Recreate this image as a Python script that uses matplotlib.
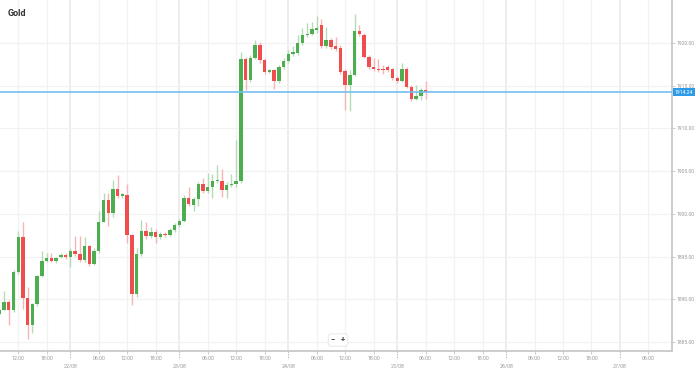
import matplotlib
matplotlib.use("Agg")
import matplotlib.pyplot as plt
import matplotlib.transforms as mtransforms

# =============================================================================
# Données (bougies horaires, x = heures de cotation depuis le 22/08 00:00)
# =============================================================================
opens = [1888.3, 1888.8, 1889.7, 1888.8, 1893.2, 1897.3, 1890.2, 1887.0, 1889.4, 1892.7,
         1894.5, 1894.8, 1894.5, 1894.9, 1895.2, 1894.9, 1895.7, 1895.3, 1894.6, 1896.2,
         1894.1, 1895.6, 1899.1, 1901.6, 1900.1, 1902.9, 1902.1, 1902.2, 1897.5, 1890.6,
         1895.3, 1898.0, 1897.4, 1897.9, 1897.3, 1897.7, 1897.5, 1898.1, 1898.7, 1899.2,
         1901.8, 1901.0, 1901.7, 1903.5, 1902.7, 1903.1, 1903.8, 1903.9, 1902.8, 1903.4,
         1903.5, 1903.8, 1918.1, 1915.7, 1918.3, 1919.8, 1918.0, 1916.6, 1916.8, 1915.5,
         1917.2, 1917.9, 1918.7, 1918.8, 1920.0, 1920.9, 1921.1, 1921.5, 1922.1, 1919.6,
         1920.4, 1919.6, 1919.4, 1916.7, 1915.1, 1916.3, 1921.4, 1920.9, 1918.4, 1917.2,
         1917.0, 1917.0, 1917.2, 1916.9, 1915.9, 1915.6, 1917.0, 1914.9, 1913.5, 1913.8,
         1914.5]
closes = [1888.8, 1889.7, 1888.8, 1893.2, 1897.3, 1890.2, 1887.0, 1889.4, 1892.7, 1894.5,
          1894.8, 1894.5, 1894.8, 1895.2, 1894.9, 1895.7, 1895.3, 1894.6, 1896.2, 1894.1,
          1895.6, 1899.1, 1901.6, 1900.1, 1902.9, 1902.1, 1902.3, 1897.5, 1890.6, 1895.3,
          1898.0, 1897.4, 1897.9, 1897.3, 1897.7, 1897.5, 1898.1, 1898.7, 1899.2, 1901.8,
          1901.1, 1901.7, 1903.5, 1902.7, 1903.1, 1903.8, 1903.9, 1902.8, 1903.4, 1903.5,
          1903.9, 1918.1, 1915.7, 1918.3, 1919.8, 1918.0, 1916.6, 1916.8, 1915.6, 1917.2,
          1917.9, 1918.7, 1918.9, 1920.0, 1920.9, 1921.1, 1921.6, 1921.7, 1919.6, 1920.4,
          1919.5, 1919.3, 1916.6, 1915.1, 1916.3, 1921.4, 1921.1, 1918.4, 1917.2, 1916.9,
          1916.8, 1916.8, 1916.8, 1915.9, 1915.6, 1917.0, 1914.9, 1913.5, 1913.8, 1914.5,
          1914.24]
highs = [1889.0, 1891.0, 1889.9, 1893.4, 1898.0, 1899.0, 1891.4, 1889.6, 1892.9, 1895.6,
         1895.4, 1895.4, 1895.0, 1895.4, 1895.4, 1896.0, 1897.4, 1897.4, 1897.3, 1896.4,
         1896.0, 1900.3, 1902.4, 1902.4, 1904.0, 1904.6, 1902.5, 1903.5, 1897.7, 1896.0,
         1899.3, 1899.1, 1898.5, 1898.2, 1897.9, 1897.9, 1898.3, 1898.9, 1899.4, 1902.2,
         1903.1, 1902.0, 1903.7, 1904.2, 1904.8, 1904.7, 1905.7, 1905.2, 1903.7, 1904.7,
         1908.6, 1919.0, 1918.4, 1918.6, 1920.4, 1920.1, 1918.2, 1917.0, 1917.0, 1917.4,
         1918.2, 1919.2, 1919.6, 1920.9, 1921.7, 1922.3, 1922.5, 1923.1, 1922.8, 1921.9,
         1920.6, 1920.7, 1919.8, 1916.9, 1916.8, 1923.4, 1922.1, 1921.2, 1918.6, 1918.2,
         1918.1, 1917.4, 1917.4, 1917.1, 1916.1, 1917.7, 1917.2, 1915.1, 1915.1, 1914.7,
         1915.6]
lows = [1888.1, 1888.7, 1887.0, 1888.5, 1893.0, 1888.9, 1885.4, 1886.1, 1889.2, 1892.6,
        1894.4, 1894.4, 1894.3, 1894.8, 1894.7, 1893.8, 1895.1, 1894.4, 1894.4, 1893.9,
        1894.0, 1895.4, 1899.0, 1898.6, 1899.6, 1901.9, 1901.9, 1896.6, 1889.3, 1890.3,
        1895.1, 1897.0, 1897.2, 1896.6, 1897.0, 1897.3, 1897.4, 1897.9, 1898.5, 1899.0,
        1900.9, 1900.3, 1900.9, 1902.5, 1902.5, 1901.8, 1903.6, 1902.0, 1901.8, 1903.1,
        1903.2, 1903.6, 1914.5, 1915.4, 1918.1, 1917.6, 1916.4, 1916.5, 1914.6, 1915.3,
        1917.0, 1917.7, 1918.5, 1918.6, 1919.8, 1920.7, 1920.9, 1921.2, 1919.4, 1919.4,
        1919.3, 1919.1, 1916.4, 1912.2, 1912.0, 1916.1, 1920.8, 1918.2, 1917.0, 1916.7,
        1916.6, 1916.4, 1916.6, 1915.7, 1915.3, 1915.4, 1914.7, 1913.2, 1913.3, 1913.3,
        1913.5]
first_hour = -15  # première bougie : 21/08 08:00
last_price = 1914.24

day_labels = ['22/08', '23/08', '24/08', '25/08', '26/08', '27/08']
day_hours = [0, 23, 46, 69, 92, 116]   # début de chaque journée (heures de cotation)
time_labels = ['06:00', '12:00', '18:00']
time_offsets = [6, 12, 18]
y_ticks = [1885, 1890, 1895, 1900, 1905, 1910, 1915, 1920]

green, red = '#4cae50', '#f04e4e'
green_w, red_w = '#b3dcb4', '#f6b4b4'
grey_txt = '#9a9a9a'

# =============================================================================
# Figure
# =============================================================================
plt.rcParams['font.family'] = ['Roboto', 'DejaVu Sans']
fig = plt.figure(figsize=(6.99, 3.68), dpi=100)
ax = fig.add_axes([0, 17 / 368, 672 / 699, 351 / 368])
xmin, xmax = -14.85, 127.0
ax.set_xlim(xmin, xmax)
ax.set_ylim(1883.95, 1925.03)

# grille
tick_pos, tick_lab = [], []
for d in [-23] + day_hours:
    for off, lab in zip(time_offsets, time_labels):
        if xmin < d + off < xmax:
            tick_pos.append(d + off)
            tick_lab.append(lab)
for p in tick_pos:
    ax.axvline(p, color='#f2f2f2', lw=0.9, zorder=0)
for p in day_hours:
    ax.axvline(p, color='#e8e8e8', lw=1.1, zorder=0)
for v in y_ticks:
    ax.axhline(v, color='#f2f2f2', lw=0.9, zorder=0)

# bougies
xs = list(range(first_hour, first_hour + len(opens)))
for x, o, h, l, c in zip(xs, opens, highs, lows, closes):
    up = c >= o
    ax.vlines(x, l, h, color=green_w if up else red_w, lw=1.0, zorder=2)
    ax.bar(x, max(abs(c - o), 0.15), bottom=min(o, c), width=0.72,
           color=green if up else red, zorder=3, linewidth=0)

# dernier prix
ax.axhline(last_price, color='#74bff0', lw=1.2, zorder=4)
trans = mtransforms.blended_transform_factory(ax.transAxes, ax.transData)
ax.text(1.004, last_price, f'{last_price:.2f}', transform=trans, fontsize=3.6,
        color='white', va='center', ha='left', clip_on=False,
        bbox=dict(boxstyle='square,pad=0.35', fc='#2d9be8', ec='none'))

# axes
for s in ['top', 'left']:
    ax.spines[s].set_visible(False)
for s in ['bottom', 'right']:
    ax.spines[s].set_color('#c4c4c4')
    ax.spines[s].set_linewidth(1.2)
ax.yaxis.tick_right()
ax.set_yticks(y_ticks)
ax.set_yticklabels([f'{v:.2f}' for v in y_ticks])
ax.tick_params(axis='y', labelsize=3.6, colors='#c4c4c4', labelcolor=grey_txt,
               length=2, width=0.6, pad=1.5)
ax.set_xticks(tick_pos)
ax.set_xticklabels(tick_lab)
ax.tick_params(axis='x', labelsize=3.8, colors='#c4c4c4', labelcolor=grey_txt,
               length=2, width=0.6, pad=1.5)

# dates sous l'axe avec petits tirets
transx = mtransforms.blended_transform_factory(ax.transData, ax.transAxes)
for p, lab in zip(day_hours, day_labels):
    ax.plot([p, p], [0, -0.022], transform=transx, color='#bdbdbd', lw=0.7,
            ls=(0, (1.5, 1.2)), clip_on=False)
    ax.text(p, -0.035, lab, transform=transx, fontsize=3.8, color=grey_txt,
            ha='center', va='top')

# titre et boutons de zoom
fig.text(8 / 699, 1 - 13 / 368, 'Gold', fontsize=6.5, fontweight='bold',
         color='#333333', va='center', ha='left')
fig.text(338 / 699, 1 - 340 / 368, '\u2212   +', fontsize=5.5, color='#444444',
         ha='center', va='center', fontweight='bold',
         bbox=dict(boxstyle='round,pad=0.35', fc='white', ec='#e4e4e4', lw=0.6))

fig.savefig('out.png', dpi=100)
